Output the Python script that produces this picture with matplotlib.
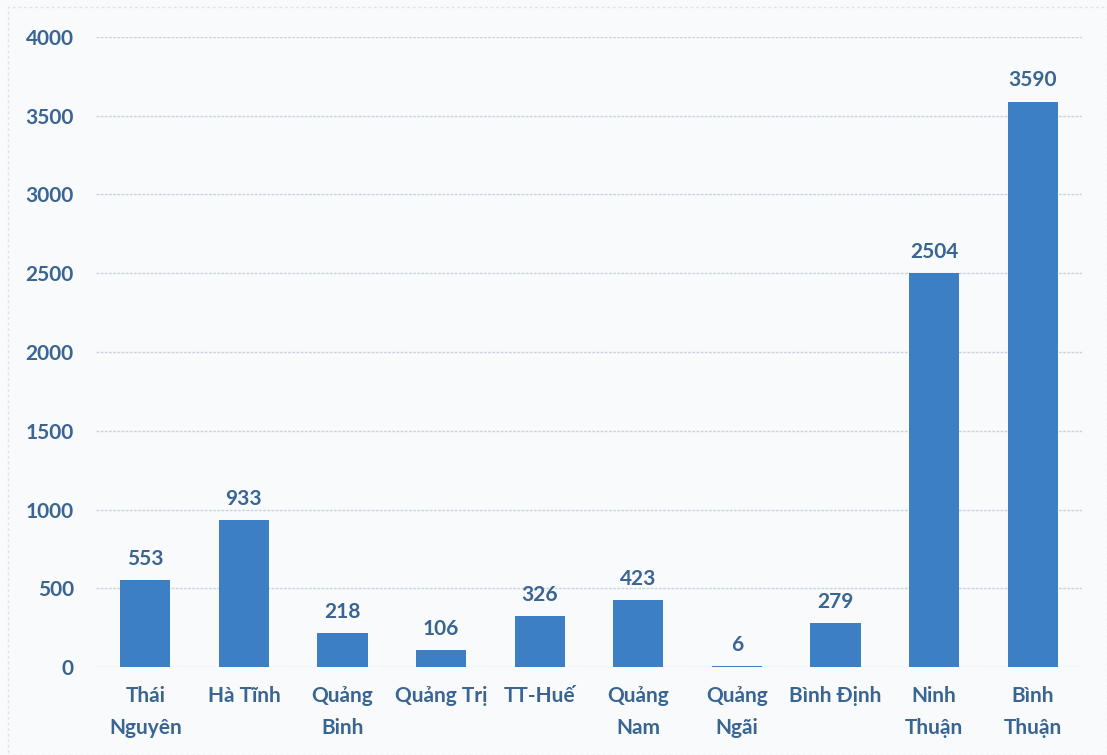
import matplotlib
matplotlib.use("Agg")
import matplotlib.pyplot as plt
from matplotlib.patches import Rectangle

# Provinces and values
provinces = ["Thái\nNguyên", "Hà Tĩnh", "Quảng\nBinh", "Quảng Trị", "TT-Huế",
             "Quảng\nNam", "Quảng\nNgãi", "Bình Định", "Ninh\nThuận", "Bình\nThuận"]
values = [553, 933, 218, 106, 326, 423, 6, 279, 2504, 3590]
y_ticks = [0, 500, 1000, 1500, 2000, 2500, 3000, 3500, 4000]

bar_color = "#3d7fc5"
text_color = "#3a6592"
grid_color = "#c9d3de"
bg_color = "#f8fafb"

plt.rcParams["font.family"] = ["Lato", "DejaVu Sans"]
plt.rcParams["font.weight"] = "bold"

fig = plt.figure(figsize=(11.07, 7.55), dpi=100, facecolor=bg_color)
ax = fig.add_axes([96 / 1107, 88 / 755, 986 / 1107, 630 / 755])
ax.set_facecolor(bg_color)

x = range(len(provinces))
bars = ax.bar(x, values, width=0.51, color=bar_color, zorder=3)
for rect, v in zip(bars, values):
    ax.annotate(str(v), (rect.get_x() + rect.get_width() / 2, v),
                xytext=(0, 8), textcoords="offset points",
                ha="center", va="bottom", fontsize=15, fontweight="bold",
                color=text_color)

ax.set_xlim(-0.5, len(provinces) - 0.5)
ax.set_ylim(0, 4000)
ax.set_yticks(y_ticks)
ax.set_xticks(list(x))
ax.set_xticklabels(provinces, fontsize=15, fontweight="bold", color=text_color,
                   linespacing=1.75)
ax.tick_params(axis="x", length=0, pad=14)
ax.tick_params(axis="y", length=0, pad=16, labelsize=15, labelcolor=text_color)
for lbl in ax.get_yticklabels():
    lbl.set_fontweight("bold")

ax.grid(axis="y", color=grid_color, linewidth=1.0, linestyle=(0, (2, 1)), zorder=0)
for s in ax.spines.values():
    s.set_visible(False)

# faint frame around the chart area
fig.patches.append(Rectangle((8 / 1107, 0.0), 1 - 8 / 1107, 1 - 7 / 755,
                             transform=fig.transFigure, fill=False,
                             edgecolor="#dde3ea", linewidth=1, linestyle=(0, (2, 2))))

fig.savefig("out.png", dpi=100, facecolor=bg_color)
